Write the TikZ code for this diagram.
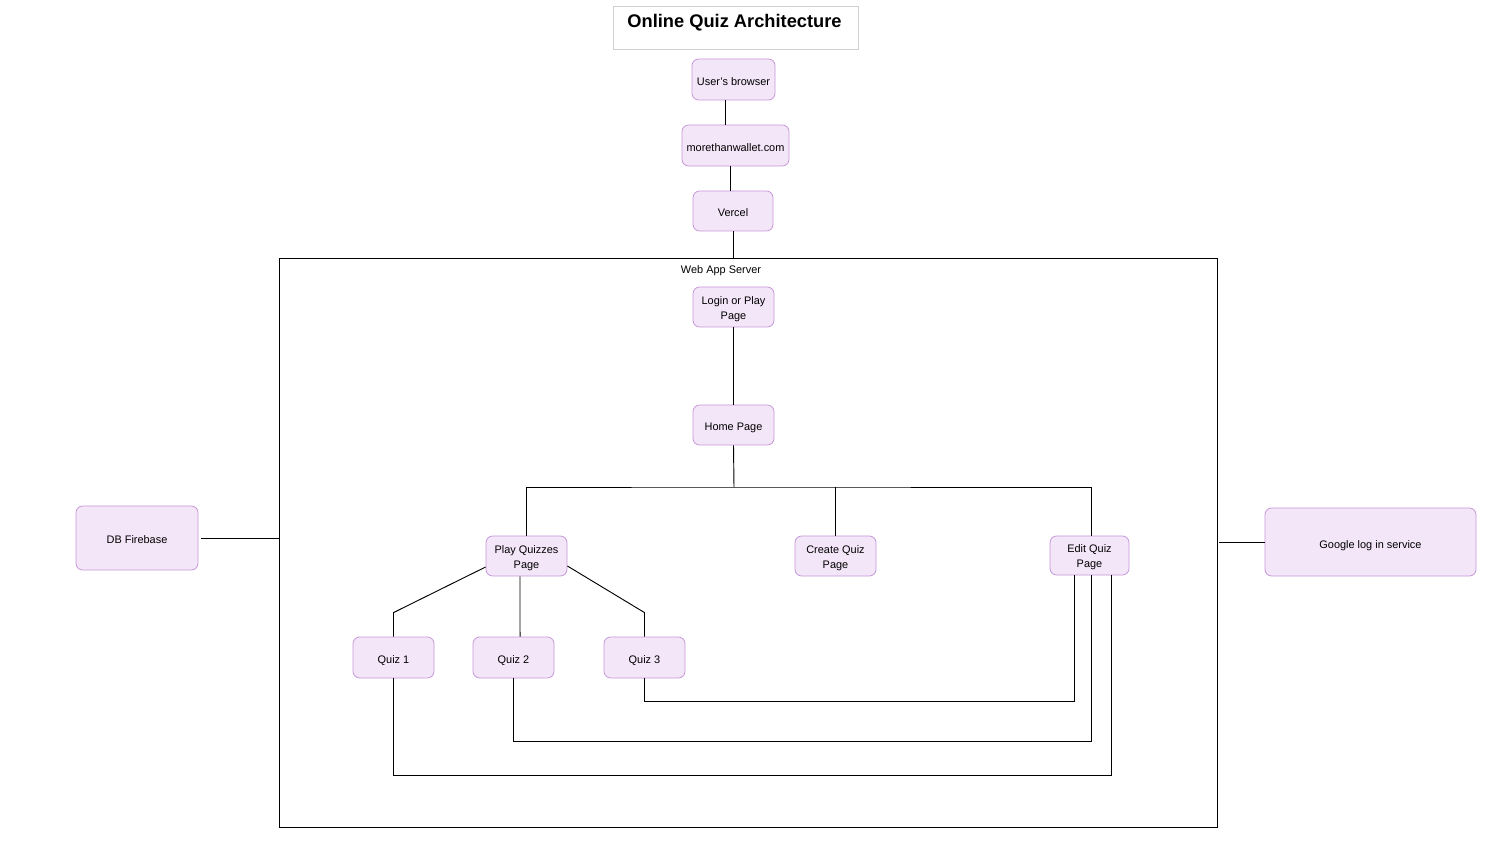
\documentclass[tikz,border=0pt]{standalone}
\usepackage{fontspec}
\setmainfont{Liberation Sans}
\definecolor{boxfill}{RGB}{243,230,248}
\definecolor{boxdraw}{RGB}{198,150,218}
\definecolor{titledraw}{RGB}{210,210,210}
\begin{document}
\begin{tikzpicture}[x=0.75pt,y=-0.75pt,
  every node/.style={font=\fontsize{8.2pt}{11.25pt}\selectfont},
  box/.style={draw=boxdraw,fill=boxfill,rounded corners=5pt,inner sep=0pt,align=center,line width=0.6pt,text height=9pt,text depth=0pt},
  boxtwo/.style={box,text height=18.4pt,text depth=0pt},
  conn/.style={draw=black,line width=0.7pt}]
\useasboundingbox (0,0) rectangle (1511,841);
% title
\node[draw=titledraw,line width=0.6pt,minimum width=183.75pt,minimum height=32.25pt,inner sep=0pt] (title) at (735.5,27.5) {};
\node[font=\bfseries\fontsize{13.7pt}{15pt}\selectfont] (titletext) at (734.5,23) {Online Quiz Architecture};
% container
\node[draw=black,line width=0.7pt,minimum width=703.5pt,minimum height=426.75pt,inner sep=0pt] (server) at (748,542.5) {};
\node (serverlabel) at (721,271) {Web App Server};
% top chain
\node[box,minimum width=62.25pt,minimum height=30.75pt] (browser) at (733.5,79.5) {User's browser};
\node[box,minimum width=80.25pt,minimum height=30.75pt] (mtw) at (735.5,145.5) {morethanwallet.com};
\node[box,minimum width=60pt,minimum height=30pt] (vercel) at (733,211) {Vercel};
% inside
\node[boxtwo,minimum width=60.75pt,minimum height=30pt] (login) at (733.5,307) {Login or Play\\Page};
\node[box,minimum width=60.75pt,minimum height=30pt] (home) at (733.5,425) {Home Page};
\node[boxtwo,minimum width=60.75pt,minimum height=30pt] (play) at (526.5,556) {Play Quizzes\\Page};
\node[boxtwo,minimum width=60.75pt,minimum height=30pt] (create) at (835.5,556) {Create Quiz\\Page};
\node[boxtwo,minimum width=59.25pt,minimum height=29.25pt] (edit) at (1089.5,555.5) {Edit Quiz\\Page};
\node[box,minimum width=60.75pt,minimum height=30.75pt] (q1) at (393.5,657.5) {Quiz 1};
\node[box,minimum width=60.75pt,minimum height=30.75pt] (q2) at (513.5,657.5) {Quiz 2};
\node[box,minimum width=60.75pt,minimum height=30.75pt] (q3) at (644.5,657.5) {Quiz 3};
% outside
\node[box,minimum width=91.5pt,minimum height=48pt] (db) at (137,538) {DB Firebase};
\node[box,minimum width=158.25pt,minimum height=51pt] (google) at (1370.5,542) {Google log in service};
% coordinates
\coordinate (c1) at (725,0);
\coordinate (c2) at (730,0);
\coordinate (bus) at (734,487);
% connectors
\draw[conn] (c1 |- browser.south) -- (c1 |- mtw.north);
\draw[conn] (c2 |- mtw.south) -- (c2 |- vercel.north);
\draw[conn] (vercel.south) -- (vercel.south |- server.north);
\draw[conn] (login.south) -- (home.north);
\draw[conn] (home.south) -- (bus);
\draw[conn] (play.north) |- (bus) -| ([xshift=1.1pt]edit.north);
\draw[conn] (create.north) -- (create.north |- bus);
\draw[conn] ([yshift=-8.25pt]play.west) -- ([yshift=18pt]q1.north) -- (q1.north);
\draw[conn] ([xshift=-4.9pt]play.south) -- ([xshift=4.9pt]q2.north);
\draw[conn] ([yshift=-7.5pt]play.east) -- ([yshift=18pt]q3.north) -- (q3.north);
\draw[conn] (q3.south) -- ([yshift=-17.25pt]q3.south) -| ([xshift=-11.6pt]edit.south);
\draw[conn] (q2.south) -- ([yshift=-47.25pt]q2.south) -| ([xshift=1.1pt]edit.south);
\draw[conn] (q1.south) -- ([yshift=-72.75pt]q1.south) -| ([xshift=16.1pt]edit.south);
\draw[conn] ([xshift=2pt]db.east) -- (db.east -| server.west);
\draw[conn] (google.west) -- ([xshift=1.5pt]google.west -| server.east);
\end{tikzpicture}
\end{document}
